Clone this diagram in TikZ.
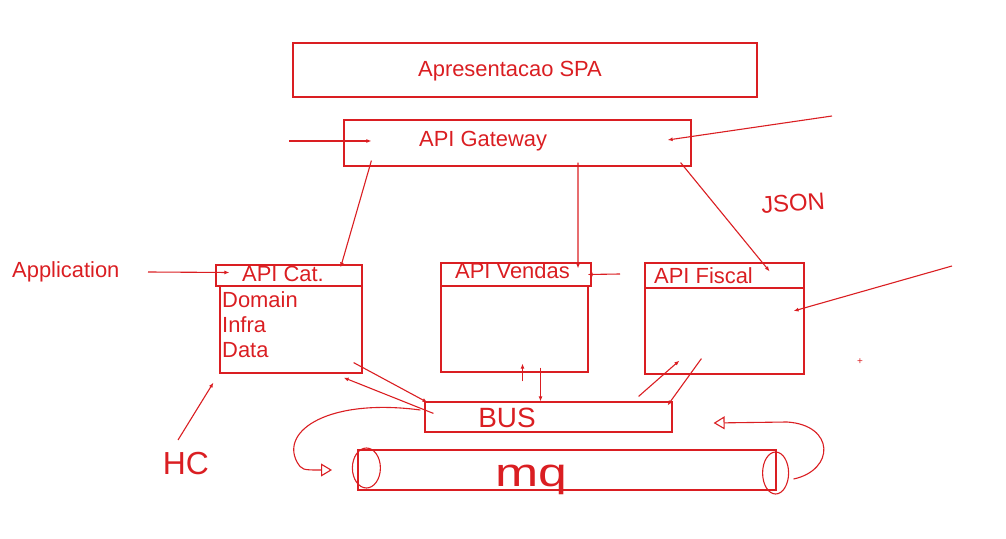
\documentclass[tikz,border=0pt]{standalone}
\usepackage{fontspec}
\setmainfont{Liberation Sans}
\usepackage{tikz}
\usetikzlibrary{arrows.meta, positioning, calc}
\usepackage{xcolor}
\definecolor{sketchRed}{RGB}{218, 30, 34}

\begin{document}
\begin{tikzpicture}[
    x=1bp, y=-1bp,
    every node/.style={text=sketchRed},
    box/.style={rectangle, draw=sketchRed, line width=1.2bp, inner sep=0pt},
    lbl/.style={font=\fontsize{22}{24}\selectfont, inner sep=0pt, anchor=west},
    hand/.style={font=\fontsize{#1}{#1}\selectfont, inner sep=0pt},
    flow/.style={-{Latex[length=5bp, width=4bp]}, draw=sketchRed, line width=1.1bp},
    loop/.style={-{Triangle[open, length=11bp, width=13bp]}, draw=sketchRed, line width=1.1bp},
]
\useasboundingbox (0,0) rectangle (1006,539);
% TOP LAYERS
\node[box, minimum width=464bp, minimum height=54bp] (spa) at (525,70) {};
\node[lbl] (spa_txt) at (418,71) {Apresentacao SPA};
\node[box, minimum width=347bp, minimum height=46bp] (gw) at (517.5,143) {};
\node[lbl] (gw_txt) at (419,141) {API Gateway};
\coordinate (gw_in_l) at (289,141);
\coordinate (gw_in_r) at (832,116);
\draw[flow] (gw_in_l) -- ($(gw.west)+(28,-2)$);
\draw[flow] (gw_in_r) -- ($(gw.east)+(-24,-3)$);
\node[hand=24, rotate=4] (json) at (793,203) {JSON};
% SERVICES
\node[box, minimum width=146bp, minimum height=21bp] (cat_head) at (289,275.5) {};
\node[box, minimum width=142bp, minimum height=87bp] (cat_body) at (291,329.5) {};
\node[lbl] (cat_txt) at (242,274) {API Cat.};
\node[lbl] (cat_dom) at (222,300) {Domain};
\node[lbl] (cat_inf) at (222,325) {Infra};
\node[lbl] (cat_dat) at (222,350) {Data};
\node[box, minimum width=150bp, minimum height=23bp] (ven_head) at (516,274.5) {};
\node[box, minimum width=147bp, minimum height=86bp] (ven_body) at (514.5,329) {};
\node[lbl] (ven_txt) at (455,271) {API Vendas};
\node[box, minimum width=159bp, minimum height=25bp] (fis_head) at (724.5,275.5) {};
\node[box, minimum width=159bp, minimum height=86bp] (fis_body) at (724.5,331) {};
\node[lbl] (fis_txt) at (654,276) {API Fiscal};
\draw[flow] ($(gw.south west)+(28,-6)$) -- ($(cat_head.north east)+(-22,3)$);
\draw[flow] ($(gw.south)+(60.5,-4)$) -- ($(ven_head.north)+(62,6)$);
\draw[flow] ($(gw.south east)+(-11,-4)$) -- ($(fis_head.north east)+(-35,9)$);
% INPUTS
\node[lbl] (app) at (12,272) {Application};
\coordinate (app_end) at (148,272);
\draw[flow] (app_end) -- ($(cat_head.west)+(14,-3)$);
\coordinate (ven_in) at (620,274);
\draw[flow] (ven_in) -- ($(ven_head.east)+(-4,0)$);
\coordinate (fis_in) at (952,266);
\draw[flow] (fis_in) -- ($(fis_body.east)+(-11,-20)$);
\node[hand=32] (hc) at (186,464) {HC};
\coordinate (hc_end) at (178,440);
\draw[flow] (hc_end) -- ($(cat_body.south west)+(-6,9)$);
% BUS AND MQ
\node[box, minimum width=247bp, minimum height=30bp] (bus) at (548.5,417) {};
\node[hand=28] (bus_txt) at (507,418) {BUS};
\node[box, minimum width=418bp, minimum height=40bp] (mq) at (567,470) {};
\node[hand=40, xscale=1.3] (mq_txt) at (531,480) {mq};
\draw[flow] ($(cat_body.south east)+(-9,-11)$) -- ($(bus.north west)+(3,1)$);
\draw[flow] ($(bus.north west)+(9,12)$) -- ($(cat_body.south east)+(-19,4)$);
\draw[flow] ($(bus.north)+(-26,-20)$) -- ($(ven_body.south)+(8,-9)$);
\draw[flow] ($(ven_body.south)+(26,-5)$) -- ($(bus.north)+(-8,0)$);
\draw[flow] ($(bus.north east)+(-34,-5)$) -- ($(fis_body.south west)+(35,-14)$);
\draw[flow] ($(fis_body.south west)+(57,-16)$) -- ($(bus.north east)+(-5,4)$);
\draw[sketchRed, line width=1.1bp] ($(mq.west)+(9,-2)$) ellipse (14 and 20);
\draw[sketchRed, line width=1.1bp] ($(mq.east)+(-1,3)$) ellipse (13 and 21);
\draw[loop] ($(bus.west)+(-4,-7)$) .. controls (330,398) and (280,430) .. (297,462) .. controls (302,470) .. (332,470);
\draw[loop] ($(mq.east)+(17,9)$) .. controls (835,470) and (835,425) .. (787,422) -- ($(bus.east)+(41,6)$);
\node[hand=10] (cursor) at (860,362) {+};
\end{tikzpicture}
\end{document}
